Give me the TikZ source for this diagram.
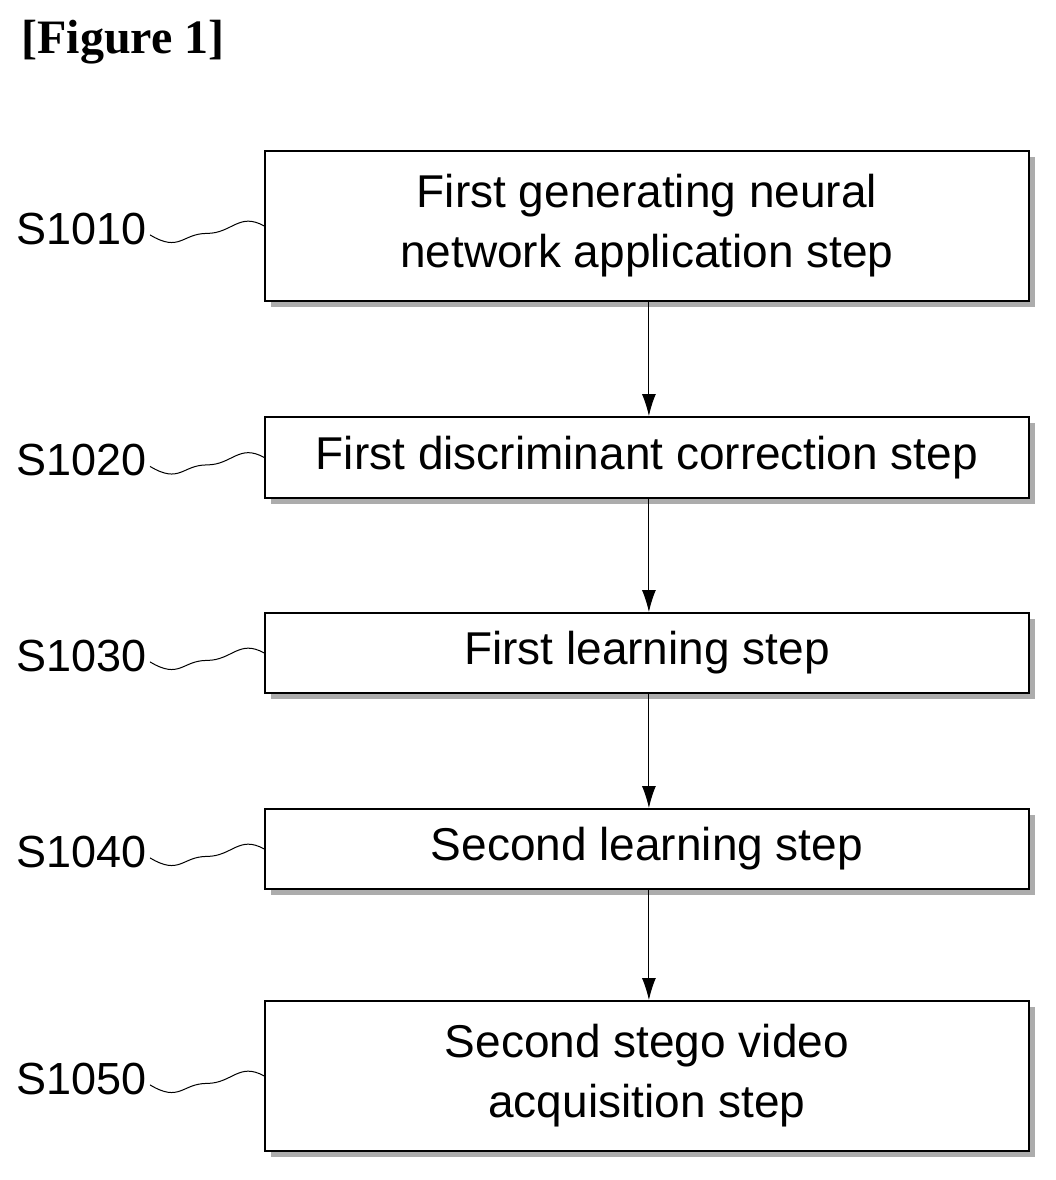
\documentclass[tikz,border=0pt]{standalone}
\usepackage{fontspec}
\usetikzlibrary{calc,arrows.meta}
\setmainfont{Liberation Sans}
\newfontfamily\titlefont{Liberation Serif}
\begin{document}
\begin{tikzpicture}[x=1pt,y=-1pt,
 box/.style={draw=black,line width=1.8pt,fill=white,minimum width=764pt,anchor=north west,inner sep=0pt,align=center,font=\fontsize{46}{60}\selectfont,
   preaction={draw=none,fill=gray!65,transform canvas={xshift=6pt,yshift=-6pt}}},
 lab/.style={font=\fontsize{45}{45}\selectfont,anchor=east},
 arr/.style={line width=1pt,-{Latex[length=22pt,width=14pt]}},
 wig/.style={line width=1pt}]
\useasboundingbox (0,0) rectangle (1055,1180);
\node[font=\titlefont\bfseries\fontsize{48}{48}\selectfont,anchor=west] (t) at (18,42) {[Figure 1]};
\node[box,minimum height=150pt] (b1) at (264,150) {First generating neural\\network application step};
\node[box,minimum height=81pt] (b2) at (264,416) {First discriminant correction step};
\node[box,minimum height=80pt] (b3) at (264,612) {First learning step};
\node[box,minimum height=80pt] (b4) at (264,808) {Second learning step};
\node[box,minimum height=150pt] (b5) at (264,1000) {Second stego video\\acquisition step};
\foreach \i/\n in {1/S1010,2/S1020,3/S1030,4/S1040,5/S1050}{
  \node[lab] (l\i) at ([xshift=-114pt,yshift=-3pt]b\i.west) {\n};
  \draw[wig] ([yshift=-6pt]l\i.east) .. controls +(30,18) and +(-25,0) .. ([yshift=-6pt]$(l\i.east)!0.5!(b\i.west)$) .. controls +(25,0) and +(-25,-14) .. (b\i.west);
}
\foreach \a/\b in {b1/b2,b2/b3,b3/b4,b4/b5}{
  \draw[arr] ([xshift=2pt]\a.south) -- ([xshift=2pt]\b.north);
}
\end{tikzpicture}
\end{document}
